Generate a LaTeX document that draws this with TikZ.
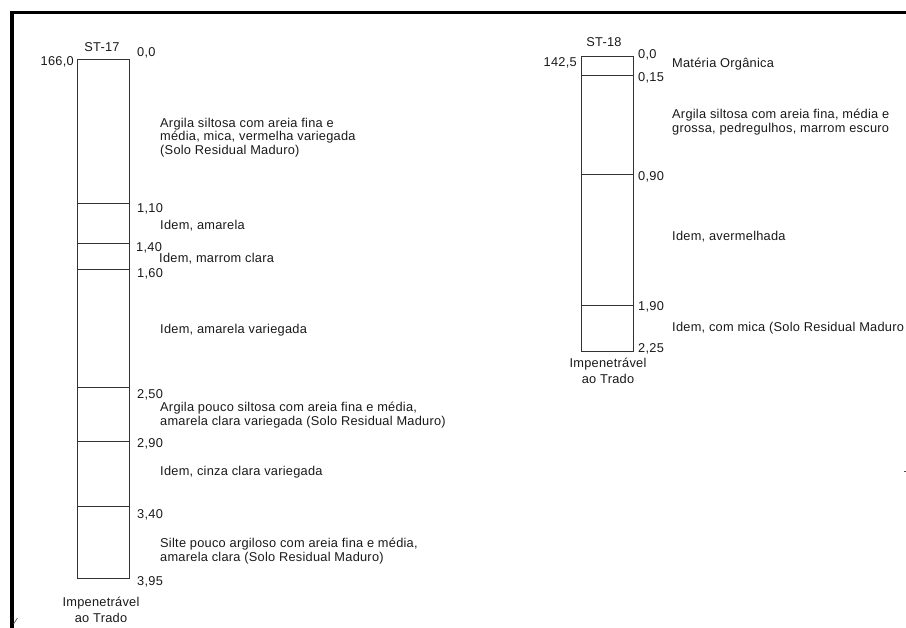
\documentclass[tikz,border=0pt]{standalone}
\usepackage{fontspec}
\setmainfont{Liberation Sans}[LetterSpace=2]
\begin{document}
\begin{tikzpicture}[x=1pt,y=-1pt,
  txt/.style={inner sep=0pt,font=\fontsize{12.8}{13.5}\selectfont,text=black!90},
  lbl/.style={txt,anchor=west,align=left},
  lblr/.style={txt,anchor=east},
  ctr/.style={txt,anchor=center,align=center,font=\fontsize{12.8}{15.5}\selectfont},
  col/.style={draw=black!80,line width=0.9pt},
  sep/.style={draw=black!80,line width=0.9pt},
  frame/.style={draw=black,line width=3.5pt}]
\useasboundingbox (0,0) rectangle (906,628);
% frame
\coordinate (fa) at (906,12.5);
\coordinate (fb) at (12,12.5);
\coordinate (fc) at (12,628);
\draw[frame] (fa) -- (fb) -- (fc);
\coordinate (ta) at (13.5,624);
\coordinate (tb) at (17.5,618);
\draw[black!70,line width=0.6pt] (ta) -- (tb);
\coordinate (da) at (904,472);
\coordinate (db) at (906,472);
\draw[black!70,line width=1pt] (da) -- (db);

% ===== ST-17 =====
\coordinate (a0) at (77.5,59);
\coordinate (a1) at (129.5,578);
\draw[col] (a0) rectangle (a1);
\foreach \d/\n in {203/a110,243/a140,269/a160,387/a250,441/a290,506/a340}{
  \coordinate (\n l) at (77.5,\d);
  \coordinate (\n r) at (129.5,\d);
  \draw[sep] (\n l) -- (\n r);
}
\node[ctr] (st17) at (102,47) {ST-17};
\node[lblr] (c17) at (74,62) {166,0};
\node[lbl] (d000) at (137,53) {0,0};
\node[lbl] (t1) at (160,137.5) {Argila siltosa com areia fina e\\média, mica, vermelha variegada\\(Solo Residual Maduro)};
\node[lbl] (d110) at (137,209) {1,10};
\node[lbl] (t2) at (160,226) {Idem, amarela};
\node[lbl] (d140) at (136,248) {1,40};
\node[lbl] (t3) at (159,259) {Idem, marrom clara};
\node[lbl] (d160) at (137,274) {1,60};
\node[lbl] (t4) at (160,330) {Idem, amarela variegada};
\node[lbl] (d250) at (137,395) {2,50};
\node[lbl] (t5) at (160,415) {Argila pouco siltosa com areia fina e média,\\amarela clara variegada (Solo Residual Maduro)};
\node[lbl] (d290) at (137,444) {2,90};
\node[lbl] (t6) at (160,472) {Idem, cinza clara variegada};
\node[lbl] (d340) at (137,515) {3,40};
\node[lbl] (t7) at (160,551) {Silte pouco argiloso com areia fina e média,\\amarela clara (Solo Residual Maduro)};
\node[lbl] (d395) at (137,582) {3,95};
\node[ctr] (imp17) at (101,610) {Impenetrável\\ao Trado};

% ===== ST-18 =====
\coordinate (b0) at (581,56);
\coordinate (b1) at (633,351.5);
\draw[col] (b0) rectangle (b1);
\foreach \d/\n in {75.5/b015,174/b090,305.5/b190}{
  \coordinate (\n l) at (581,\d);
  \coordinate (\n r) at (633,\d);
  \draw[sep] (\n l) -- (\n r);
}
\node[ctr] (st18) at (604,42) {ST-18};
\node[lblr] (c18) at (577,63) {142,5};
\node[lbl] (e000) at (638,55) {0,0};
\node[lbl] (u1) at (672,64) {Matéria Orgânica};
\node[lbl] (e015) at (638,78) {0,15};
\node[lbl] (u2) at (672,122) {Argila siltosa com areia fina, média e\\grossa, pedregulhos, marrom escuro};
\node[lbl] (e090) at (638,177) {0,90};
\node[lbl] (u3) at (672,237) {Idem, avermelhada};
\node[lbl] (e190) at (638,307) {1,90};
\node[lbl] (u4) at (672,328) {Idem, com mica (Solo Residual Maduro};
\node[lbl] (e225) at (638,349) {2,25};
\node[ctr] (imp18) at (608,371) {Impenetrável\\ao Trado};
\end{tikzpicture}
\end{document}
